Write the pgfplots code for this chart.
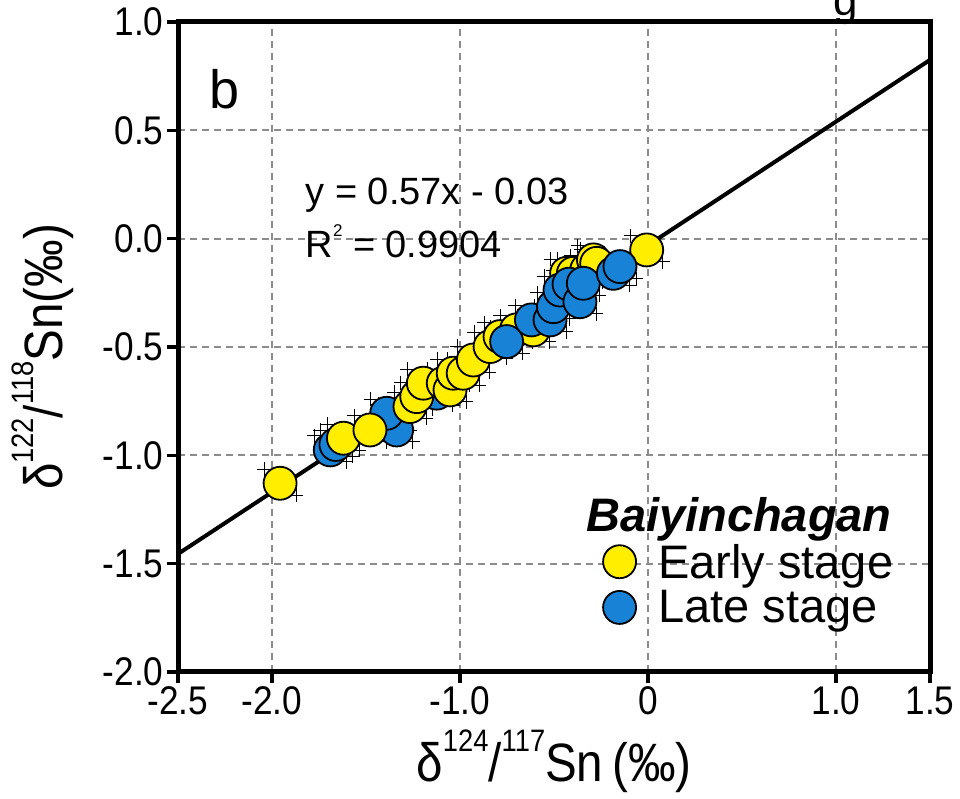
\documentclass[border=0pt]{standalone}
\usepackage{fontspec}
\setmainfont{Liberation Sans}
\newfontfamily\narrowfont{Liberation Sans}[FakeStretch=0.88]
\usepackage{pgfplots}
\pgfplotsset{compat=1.18}
\usetikzlibrary{calc}
\definecolor{yel}{RGB}{255,238,0}
\definecolor{blu}{RGB}{24,130,214}
\definecolor{gridgray}{RGB}{140,140,140}
\begin{document}
\begin{tikzpicture}
\begin{axis}[
  scale only axis, width=752pt, height=650pt,
  xmin=-2.5, xmax=1.5, ymin=-2, ymax=1,
  xtick={-2.5,-2,-1,0,1,1.5},
  xticklabels={-2.5,-2.0,-1.0,0,1.0,1.5},
  ytick={-2,-1.5,-1,-0.5,0,0.5,1},
  yticklabels={-2.0,-1.5,-1.0,-0.5,0.0,0.5,1.0},
  xtick pos=left, ytick pos=left,
  grid=major,
  major grid style={gridgray, line width=2.2pt, dash pattern=on 7pt off 5pt},
  tick style={line width=3.5pt, black},
  major tick length=11pt,
  tick align=outside,
  /pgf/number format/assume math mode=true,
  tick label style={font=\narrowfont\fontsize{40}{40}\selectfont},
  xlabel={\narrowfont δ\raisebox{0.55em}{\fontsize{31}{31}\selectfont 124}/\raisebox{0.55em}{\fontsize{31}{31}\selectfont 117}Sn\,(‰)},
  ylabel={\narrowfont δ\raisebox{0.55em}{\fontsize{31}{31}\selectfont 122}/\raisebox{0.55em}{\fontsize{31}{31}\selectfont 118}Sn(‰)},
  label style={font=\fontsize{54}{54}\selectfont},
  xlabel style={yshift=-8pt},
  ylabel style={xshift=-10pt, yshift=22pt},
  legend style={at={(0.565,0.272)}, anchor=north west, draw=none, fill=none,
    font=\fontsize{47}{50}\selectfont, inner sep=0pt, row sep=7pt,
    /tikz/every odd column/.append style={column sep=20pt}},
  legend cell align=left,
  clip=false,
]
\coordinate (SW) at (rel axis cs:0,0);
\coordinate (NE) at (rel axis cs:1,1);
\addlegendimage{empty legend}
\addlegendentry{\hspace*{-72pt}\bfseries\itshape Baiyinchagan}
% regression line
\addplot[black, line width=4pt, forget plot] coordinates {(-2.5,-1.455) (1.5,0.825)};
% small crosses
\addplot[only marks, mark=+, mark size=7pt, black, line width=0.8pt, forget plot] coordinates {
(-2.042,-1.064) (-1.872,-1.184) (-0.092,0.013) (0.078,-0.107)
(-1.705,-0.856) (-1.535,-0.976) (-1.564,-0.818) (-1.394,-0.938)
(-1.351,-0.710) (-1.181,-0.830) (-1.315,-0.664) (-1.145,-0.784)
(-1.280,-0.602) (-1.110,-0.722) (-1.174,-0.602) (-1.004,-0.722)
(-1.138,-0.633) (-0.968,-0.753) (-1.121,-0.556) (-0.951,-0.676)
(-1.068,-0.556) (-0.898,-0.676) (-1.014,-0.495) (-0.844,-0.615)
(-0.925,-0.433) (-0.755,-0.553) (-0.872,-0.387) (-0.702,-0.507)
(-0.785,-0.356) (-0.615,-0.476) (-0.695,-0.356) (-0.525,-0.476)
(-0.518,-0.095) (-0.348,-0.215) (-0.482,-0.095) (-0.312,-0.215)
(-0.411,-0.079) (-0.241,-0.199) (-0.375,-0.033) (-0.205,-0.153)
(-0.358,-0.049) (-0.188,-0.169)
(-1.775,-0.910) (-1.605,-1.030) (-1.745,-0.885) (-1.575,-1.005)
(-1.475,-0.741) (-1.305,-0.861) (-1.422,-0.818) (-1.252,-0.938)
(-1.435,-0.765) (-1.265,-0.885) (-1.209,-0.648) (-1.039,-0.768)
(-0.837,-0.410) (-0.667,-0.530) (-0.705,-0.310) (-0.535,-0.430)
(-0.606,-0.310) (-0.436,-0.430) (-0.588,-0.249) (-0.418,-0.369)
(-0.553,-0.172) (-0.383,-0.292) (-0.505,-0.145) (-0.335,-0.265)
(-0.447,-0.226) (-0.277,-0.346) (-0.429,-0.141) (-0.259,-0.261)
(-0.269,-0.095) (-0.099,-0.215) (-0.234,-0.064) (-0.064,-0.184)
};
% late stage, lower group
\addplot[only marks, mark=*, mark size=16.5pt, mark options={fill=blu, draw=black, line width=1.8pt}, forget plot] coordinates {
(-1.690,-0.975) (-1.660,-0.950) (-1.350,-0.830) (-1.337,-0.883) (-1.390,-0.806) (-1.124,-0.713)
};
% early stage
\addplot[only marks, mark=*, mark size=16.5pt, mark options={fill=yel, draw=black, line width=1.8pt}] coordinates {
(-1.957,-1.129) (-0.007,-0.052) (-1.620,-0.921) (-1.479,-0.883)
(-1.266,-0.775) (-1.230,-0.729) (-1.195,-0.667) (-1.089,-0.667)
(-1.053,-0.698) (-1.036,-0.621) (-0.983,-0.621) (-0.929,-0.560)
(-0.840,-0.498) (-0.787,-0.452) (-0.700,-0.421) (-0.610,-0.421)
(-0.433,-0.160) (-0.397,-0.160) (-0.326,-0.144) (-0.290,-0.098) (-0.273,-0.114)
};
\addlegendentry{Early stage}
% late stage, upper group
\addplot[only marks, mark=*, mark size=16.5pt, mark options={fill=blu, draw=black, line width=1.8pt}] coordinates {
(-0.752,-0.475) (-0.620,-0.375) (-0.521,-0.375) (-0.503,-0.314)
(-0.468,-0.237) (-0.420,-0.210) (-0.362,-0.291) (-0.344,-0.206)
(-0.184,-0.160) (-0.149,-0.129)
};
\addlegendentry{Late stage}
\node[font=\fontsize{54}{54}\selectfont] at (axis cs:-2.25,0.69) {b};
\node[anchor=west, font=\fontsize{38}{38}\selectfont] at (axis cs:-1.84,0.20) {y = 0.57x - 0.03};
\node[anchor=west, font=\fontsize{38}{38}\selectfont] at (axis cs:-1.84,-0.01) {R\raisebox{0.55em}{\fontsize{17}{17}\selectfont 2} = 0.9904};
\end{axis}
\draw[line width=5pt, line cap=rect] (SW) rectangle (NE);
\node[anchor=base, font=\fontsize{44}{44}\selectfont] at ($(NE)+(-84pt,6pt)$) {g};
\pgfresetboundingbox
\path[use as bounding box] ($(SW)+(-178pt,-127pt)$) rectangle ($(NE)+(30pt,22pt)$);
\end{tikzpicture}
\end{document}
